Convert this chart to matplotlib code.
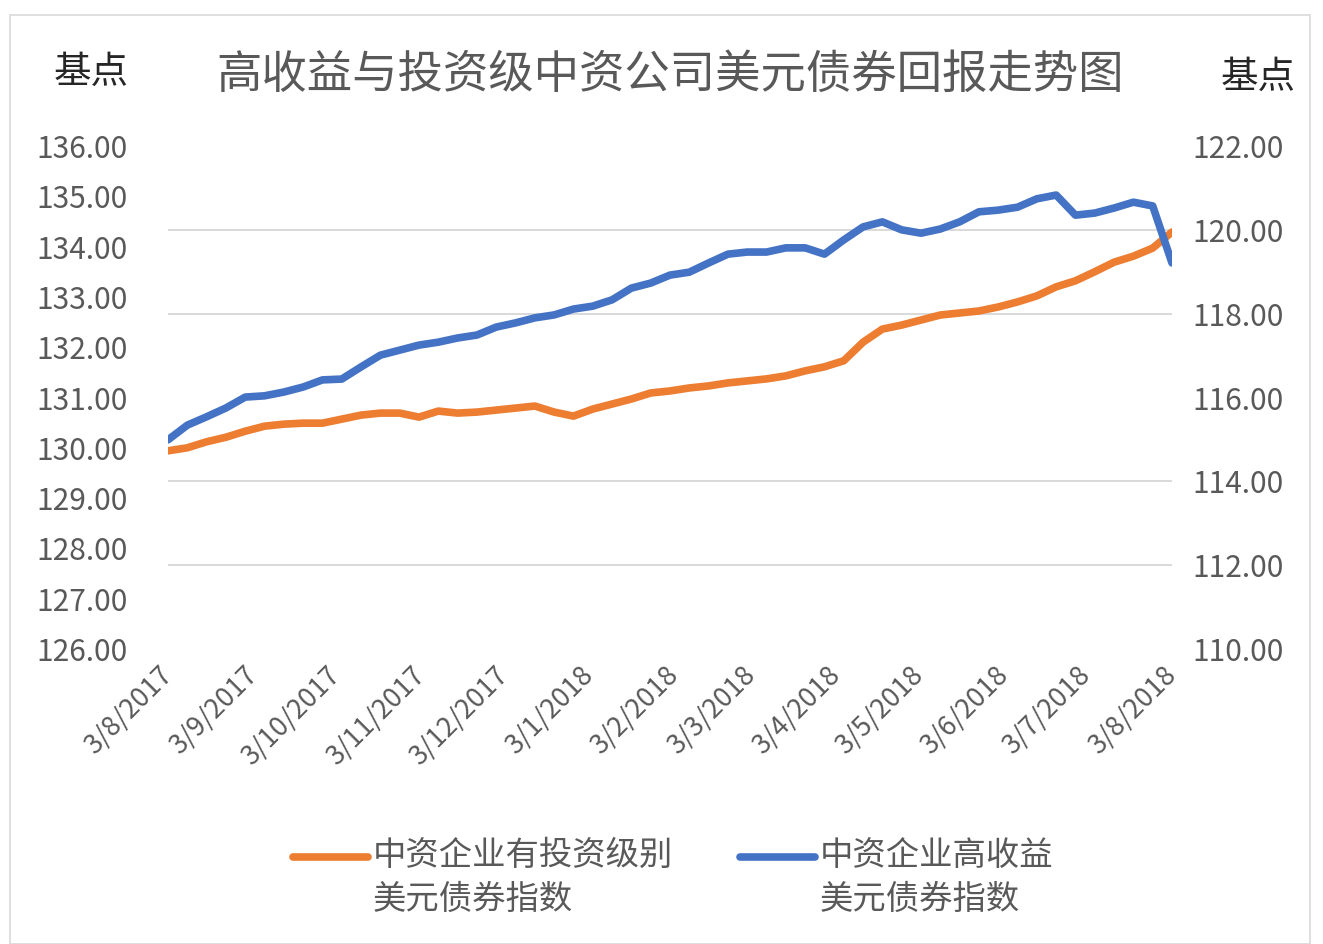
import numpy as np
import pandas as pd
import matplotlib
matplotlib.use("Agg")
import matplotlib.pyplot as plt
from matplotlib.lines import Line2D
from matplotlib.patches import Rectangle

plt.rcParams['font.family'] = ['Noto Sans CJK SC', 'DejaVu Sans']

# weekly observations, 3 Aug 2017 .. 3 Aug 2018
dates = pd.date_range("2017-08-03", "2018-08-03", periods=53)

# 中资企业有投资级别美元债券指数 (left axis)
ig_index = [129.94, 130.00, 130.12, 130.21, 130.33, 130.43, 130.47, 130.49, 130.49, 130.57,
            130.65, 130.69, 130.69, 130.61, 130.73, 130.69, 130.71, 130.75, 130.79, 130.83,
            130.71, 130.63, 130.77, 130.87, 130.97, 131.09, 131.13, 131.19, 131.23, 131.29,
            131.33, 131.37, 131.43, 131.53, 131.61, 131.73, 132.10, 132.36, 132.44, 132.54,
            132.64, 132.68, 132.72, 132.80, 132.90, 133.02, 133.20, 133.32, 133.50, 133.69,
            133.81, 133.97, 134.29]

# 中资企业高收益美元债券指数 (right axis)
hy_index = [114.99, 115.34, 115.54, 115.75, 116.01, 116.04, 116.13, 116.25, 116.42, 116.44,
            116.73, 117.01, 117.13, 117.25, 117.32, 117.42, 117.49, 117.68, 117.78, 117.90,
            117.97, 118.11, 118.18, 118.33, 118.61, 118.73, 118.92, 118.99, 119.21, 119.42,
            119.47, 119.47, 119.57, 119.57, 119.42, 119.76, 120.07, 120.19, 120.00, 119.92,
            120.02, 120.19, 120.43, 120.47, 120.54, 120.74, 120.83, 120.35, 120.40, 120.52,
            120.66, 120.57, 119.21]

ig_label = "中资企业有投资级别\n美元债券指数"
hy_label = "中资企业高收益\n美元债券指数"
title = "高收益与投资级中资公司美元债券回报走势图"

orange = "#ED7D31"
blue = "#4472C4"
txt = "#595959"

W, H = 1323, 944
fig = plt.figure(figsize=(W / 100, H / 100), dpi=100)
fig.add_artist(Rectangle((10 / W, 0), 1300 / W, 1 - 15 / H, transform=fig.transFigure,
                         fill=False, edgecolor="#d9d9d9", lw=1.2))

ax = fig.add_axes([168 / W, 1 - 649 / H, (1172 - 168) / W, (649 - 146) / H])
ax2 = ax.twinx()

ax.set_ylim(126, 136)
ax2.set_ylim(110, 122)
ax.set_yticks(np.arange(126, 137, 1))
ax2.set_yticks(np.arange(110, 123, 2))
ax.yaxis.set_major_formatter(matplotlib.ticker.FormatStrFormatter('%.2f'))
ax2.yaxis.set_major_formatter(matplotlib.ticker.FormatStrFormatter('%.2f'))

# gridlines follow the right-hand scale, drawn underneath both series
lo, hi = ax2.get_ylim()
grid_pos = [126 + (v - lo) / (hi - lo) * 10 for v in ax2.get_yticks()]
ax.set_yticks(grid_pos, minor=True)
ax.yaxis.grid(True, which='minor', color="#d9d9d9", lw=1.4)
ax.set_axisbelow(True)

ax.plot(dates, ig_index, color=orange, lw=5.5, solid_joinstyle='round', solid_capstyle='round')
ax2.plot(dates, hy_index, color=blue, lw=5.5, solid_joinstyle='round', solid_capstyle='round')

ax.set_xlim(dates[0], dates[-1])
months = pd.date_range("2017-08-01", "2018-08-01", freq="MS") + pd.Timedelta(days=2)
ax.set_xticks(months)
ax.set_xticklabels([f"{d.day}/{d.month}/{d.year}" for d in months], rotation=45,
                   ha='right', va='center', rotation_mode='anchor')

for a in (ax, ax2):
    for s in a.spines.values():
        s.set_visible(False)
    a.tick_params(which='both', length=0, labelsize=21.5, labelcolor=txt)
ax.tick_params(axis='y', pad=29)
ax2.tick_params(axis='y', pad=15)
ax.tick_params(axis='x', pad=16, labelsize=19.5)

fig.text(670 / W, 1 - 75 / H, title, ha='center', va='center', fontsize=32.7,
         color=txt, fontweight='light')
fig.text(91 / W, 1 - 72 / H, "基点", ha='center', va='center', fontsize=27, color="#262626")
fig.text(1258 / W, 1 - 77 / H, "基点", ha='center', va='center', fontsize=27, color="#262626")

# legend
for x0, col, lab in ((293, orange, ig_label), (740, blue, hy_label)):
    fig.add_artist(Line2D([x0 / W, (x0 + 75) / W], [1 - 857 / H] * 2, transform=fig.transFigure,
                          color=col, lw=5.5, solid_capstyle='round'))
    fig.text((x0 + 80) / W, 1 - 838 / H, lab, ha='left', va='top', fontsize=24,
             color=txt, linespacing=1.32, fontweight='light')

fig.savefig("out.png", dpi=100)
